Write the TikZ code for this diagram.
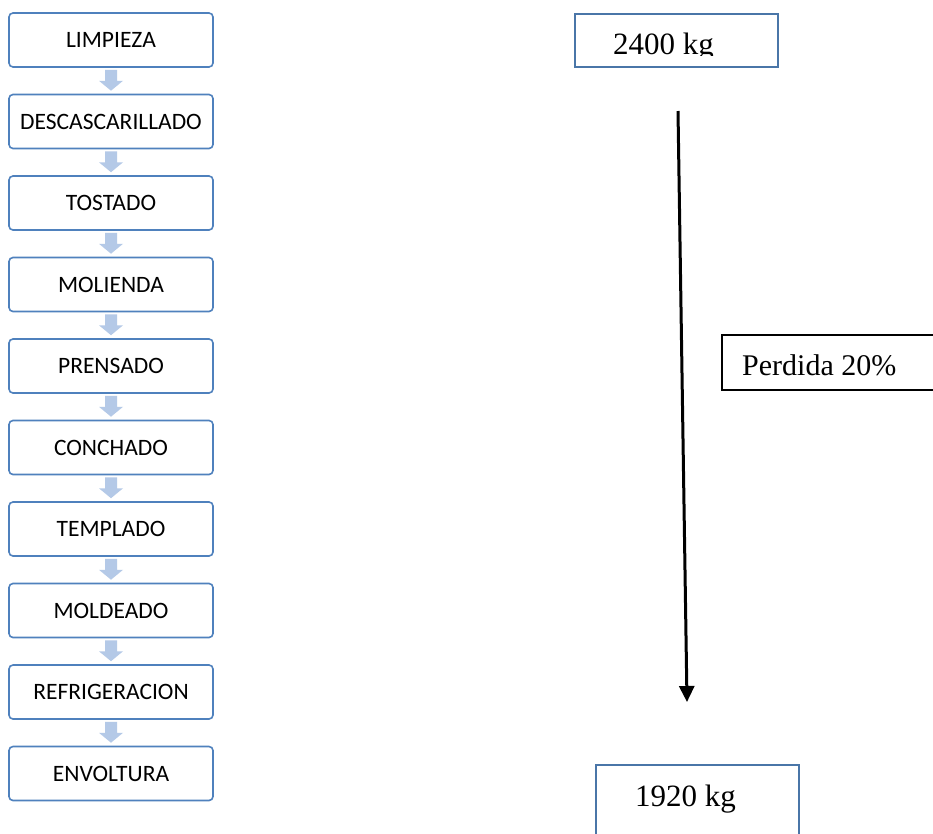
\documentclass[tikz,border=0pt]{standalone}
\usepackage{fontspec}
\setmainfont{Liberation Serif}
\newfontfamily\calib{Carlito}
\usetikzlibrary{calc,arrows.meta}
\definecolor{boxblue}{HTML}{4F81BD}
\definecolor{massblue}{HTML}{4A76A8}
\definecolor{arrowblue}{HTML}{B4C9E7}
\tikzset{
  stepbox/.style={draw=boxblue, line width=1.6pt, rounded corners=4pt, fill=white,
    minimum width=204pt, minimum height=54pt, inner sep=0pt,
    font=\calib\fontsize{23.5}{26}\selectfont},
  flowarrow/.style={fill=arrowblue, draw=none},
  massbox/.style={draw=massblue, line width=2pt, inner sep=0pt},
  lossbox/.style={draw=black, line width=2.2pt, inner sep=0pt},
  serif/.style={font=\fontsize{31}{34}\selectfont, inner sep=0pt, anchor=base west},
}
\begin{document}
\begin{tikzpicture}[x=1pt, y=-1pt]
\clip (0,0) rectangle (933,833);
\fill[white] (0,0) rectangle (933,833);

% process steps
\foreach \name [count=\i] in {LIMPIEZA, DESCASCARILLADO, TOSTADO, MOLIENDA, PRENSADO,
  CONCHADO, TEMPLADO, MOLDEADO, REFRIGERACION, ENVOLTURA}
  \node[stepbox] (b\i) at (111, {40 + 81.5*(\i-1)}) {\name};

% block arrows between consecutive steps
\foreach \i [evaluate=\i as \j using int(\i+1)] in {1,...,9}
  \fill[flowarrow] ($(b\i.south)+(-6,2)$) -- ++(12,0) -- ++(0,11) -- ++(6,0)
    -- ($(b\j.north)+(0,-3)$) -- ($(b\i.south)+(-12,13)$) -- ++(6,0) -- cycle;

% mass balance
\node[massbox, minimum width=203pt, minimum height=53pt] (inicio) at (676.5,40.5) {};
\begin{scope}
  \clip (577,15) rectangle (776,55.5);
  \node[serif] (inicioT) at (613,54) {2400 kg};
\end{scope}

\node[lossbox, minimum width=230pt, minimum height=55pt] (perdida) at (837,362.5) {};
\node[serif, font=\fontsize{30}{33}\selectfont] (perdidaT) at (742,375) {Perdida 20\%};

\node[massbox, minimum width=203pt, minimum height=90pt] (final) at (697.5,810) {};
\node[serif] (finalT) at (635,806.5) {1920 kg};

\coordinate (flujoA) at (678,111);
\coordinate (flujoB) at (687,702);
\draw[line width=3pt, -{Triangle[width=15pt,length=16pt]}] (flujoA) -- (flujoB);
\end{tikzpicture}
\end{document}
